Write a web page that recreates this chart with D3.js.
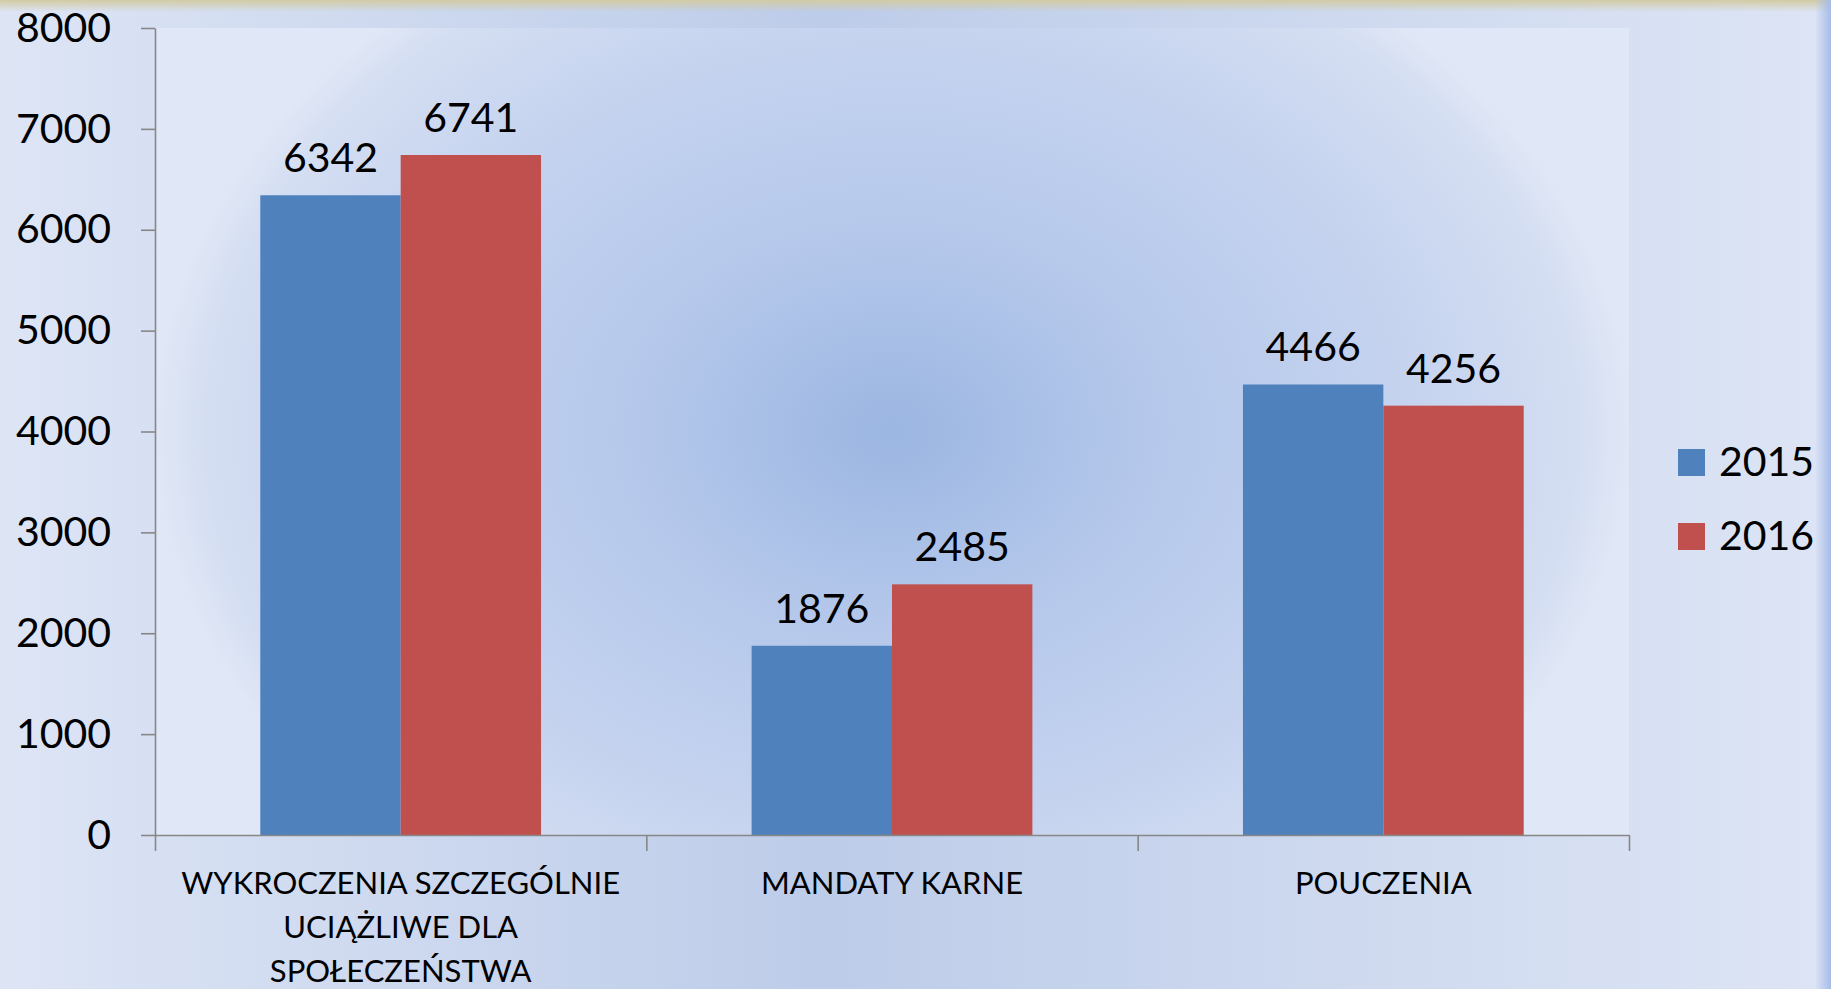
<!DOCTYPE html>
<html>
<head>
<meta charset="utf-8">
<script src="https://cdn.jsdelivr.net/npm/d3@7"></script>
<style>
  html, body { margin: 0; padding: 0; overflow: hidden; }
  svg { display: block; font-family: Lato, "Open Sans", sans-serif; }
</style>
</head>
<body>
<svg id="chart" width="1831" height="989"></svg>
<script>
// chart data
const categories = ['WYKROCZENIA SZCZEGÓLNIE UCIĄŻLIWE DLA SPOŁECZEŃSTWA', 'MANDATY KARNE', 'POUCZENIA'];
const categoryLines = [
    ['WYKROCZENIA SZCZEGÓLNIE', 'UCIĄŻLIWE DLA', 'SPOŁECZEŃSTWA'],
    ['MANDATY KARNE'],
    ['POUCZENIA']
];
const seriesNames = ['2015', '2016'];
const values2015 = [6342, 1876, 4466];
const values2016 = [6741, 2485, 4256];
const yTicks = [0, 1000, 2000, 3000, 4000, 5000, 6000, 7000, 8000];
const colors = ['#4f81bd', '#c0504d'];

const width = 1831;
const height = 989;
const plot = { left: 155, right: 1629, top: 28, bottom: 835 };
const cx = (plot.left + plot.right) / 2;
const cy = (plot.top + plot.bottom) / 2;

const svg = d3.select('#chart');
const defs = svg.append('defs');

// background gradients
const pageBg = defs.append('linearGradient').attr('id', 'pageBg')
    .attr('x1', 0).attr('y1', 0).attr('x2', 1).attr('y2', 0);
pageBg.append('stop').attr('offset', 0).attr('stop-color', '#dde5f5');
pageBg.append('stop').attr('offset', 0.45).attr('stop-color', '#bdcce9');
pageBg.append('stop').attr('offset', 0.9).attr('stop-color', '#d8e1f3');
pageBg.append('stop').attr('offset', 1).attr('stop-color', '#dce4f5');

const plotBg = defs.append('radialGradient').attr('id', 'plotBg')
    .attr('gradientUnits', 'userSpaceOnUse')
    .attr('cx', cx).attr('cy', cy).attr('r', (plot.right - plot.left) / 2)
    .attr('gradientTransform', `translate(${cx},${cy}) scale(1,0.76) translate(${-cx},${-cy})`);
[[0, '#9bb6e2'], [0.35, '#b5c8eb'], [0.7, '#c5d3ef'], [0.93, '#d4def2'], [1, '#e0e7f6']]
    .forEach(([o, c]) => plotBg.append('stop').attr('offset', o).attr('stop-color', c));

const topEdge = defs.append('linearGradient').attr('id', 'topEdge')
    .attr('x1', 0).attr('y1', 0).attr('x2', 0).attr('y2', 1);
topEdge.append('stop').attr('offset', 0).attr('stop-color', '#d2cba4');
topEdge.append('stop').attr('offset', 1).attr('stop-color', '#d2cba4').attr('stop-opacity', 0);

const rightEdge = defs.append('linearGradient').attr('id', 'rightEdge')
    .attr('x1', 0).attr('y1', 0).attr('x2', 1).attr('y2', 0);
rightEdge.append('stop').attr('offset', 0).attr('stop-color', '#a7bbe8').attr('stop-opacity', 0);
rightEdge.append('stop').attr('offset', 1).attr('stop-color', '#a7bbe8');

svg.append('rect').attr('width', width).attr('height', height).attr('fill', 'url(#pageBg)');
svg.append('rect').attr('width', width).attr('height', 12).attr('fill', 'url(#topEdge)');
svg.append('rect').attr('x', width - 16).attr('width', 16).attr('height', height).attr('fill', 'url(#rightEdge)');
svg.append('rect')
    .attr('x', plot.left).attr('y', plot.top)
    .attr('width', plot.right - plot.left).attr('height', plot.bottom - plot.top)
    .attr('fill', 'url(#plotBg)');

// scales
const x = d3.scaleBand().domain(categories).range([plot.left, plot.right]);
const xSub = d3.scaleBand().domain(seriesNames).range([0, x.bandwidth()]).paddingOuter(0.75);
const y = d3.scaleLinear().domain([0, 8000]).range([plot.bottom, plot.top]);

const data = categories.map((c, i) => ({
    category: c,
    values: [
        { series: '2015', value: values2015[i] },
        { series: '2016', value: values2016[i] }
    ]
}));

// bars
const groups = svg.selectAll('.group')
    .data(data)
    .enter()
    .append('g')
    .attr('transform', (d) => `translate(${x(d.category)},0)`);

groups.selectAll('rect')
    .data((d) => d.values)
    .enter()
    .append('rect')
    .attr('x', (d) => xSub(d.series))
    .attr('y', (d) => y(d.value))
    .attr('width', xSub.bandwidth())
    .attr('height', (d) => y(0) - y(d.value))
    .attr('fill', (d, i) => colors[i]);

groups.selectAll('.val')
    .data((d) => d.values)
    .enter()
    .append('text')
    .attr('class', 'val')
    .attr('x', (d) => xSub(d.series) + xSub.bandwidth() / 2)
    .attr('y', (d) => y(d.value) - 23)
    .attr('text-anchor', 'middle')
    .attr('font-size', 41)
    .attr('fill', '#000')
    .text((d) => d.value);

// y axis
const yAxis = svg.append('g')
    .attr('transform', `translate(${plot.left},0)`)
    .call(d3.axisLeft(y).tickValues(yTicks).tickFormat(d3.format('d'))
        .tickSize(14).tickSizeOuter(0).tickPadding(30));
yAxis.selectAll('text').attr('font-size', 41).attr('fill', '#000').attr('font-family', 'Lato');

// x axis with ticks on category boundaries
const xEdge = d3.scaleLinear().domain([0, categories.length]).range([plot.left, plot.right]);
svg.append('g')
    .attr('transform', `translate(0,${plot.bottom})`)
    .call(d3.axisBottom(xEdge).tickValues(d3.range(categories.length + 1))
        .tickSize(16).tickSizeOuter(0).tickFormat(''));

svg.selectAll('.domain, .tick line').attr('stroke', '#878787').attr('stroke-width', 1.6);

// category labels
const catLabels = svg.selectAll('.cat')
    .data(categories)
    .enter()
    .append('text')
    .attr('class', 'cat')
    .attr('x', (d) => x(d) + x.bandwidth() / 2)
    .attr('y', 894)
    .attr('text-anchor', 'middle')
    .attr('font-size', 31)
    .attr('fill', '#000');

catLabels.selectAll('tspan')
    .data((d, i) => categoryLines[i])
    .enter()
    .append('tspan')
    .attr('x', function () { return d3.select(this.parentNode).attr('x'); })
    .attr('dy', (d, i) => (i === 0 ? 0 : 44))
    .text((d) => d);

// legend
const legend = svg.append('g').attr('transform', 'translate(1678,449)');
seriesNames.forEach((s, i) => {
    legend.append('rect')
        .attr('y', i * 74)
        .attr('width', 27).attr('height', 27)
        .attr('fill', colors[i]);
    legend.append('text')
        .attr('x', 41).attr('y', i * 74 + 27)
        .attr('font-size', 41)
        .attr('fill', '#000')
        .text(s);
});
</script>
</body>
</html>
